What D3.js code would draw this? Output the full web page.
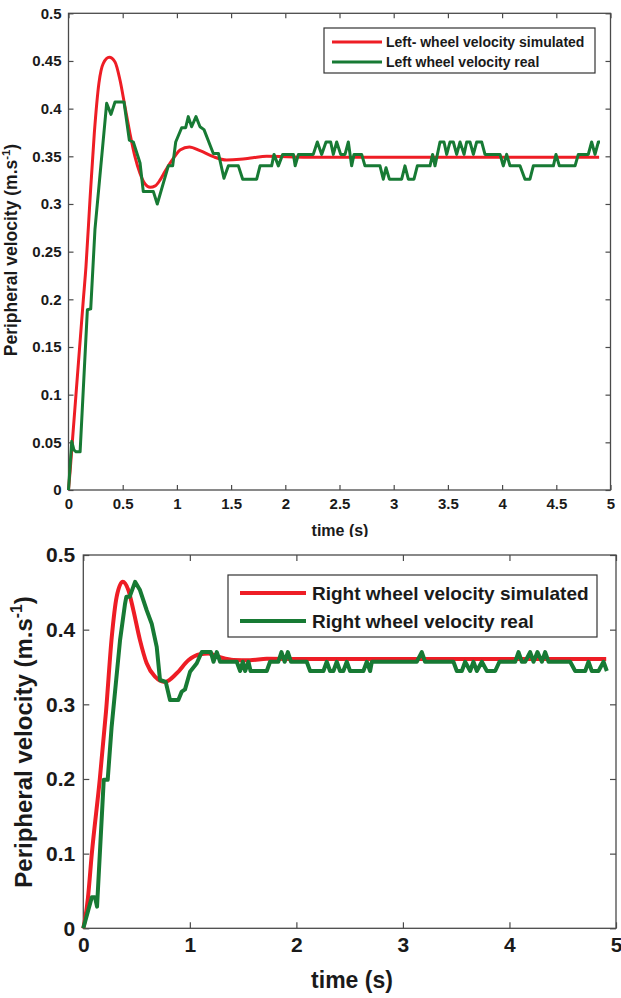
<!DOCTYPE html>
<html>
<head>
<meta charset="utf-8">
<script src="https://cdn.jsdelivr.net/npm/d3@7"></script>
<style>
  html, body { margin: 0; padding: 0; background: #fff; }
  svg { display: block; }
  text { font-family: "Liberation Sans", Arial, sans-serif; font-weight: bold; fill: #1a1a1a; }
</style>
</head>
<body>
<svg id="chart" width="621" height="998"></svg>
<script>
// ---------- DATA ----------
// Top chart: left wheel
const leftSimT = [0, 0.015, 0.035, 0.069, 0.137, 0.161, 0.198, 0.238, 0.281, 0.321, 0.376, 0.429, 0.475, 0.521, 0.567, 0.613, 0.66, 0.706, 0.752, 0.80, 0.844, 0.89, 0.936, 0.98, 1.029, 1.115, 1.213, 1.336, 1.459, 1.582, 1.70, 1.828, 2.2, 4.895];
const leftSimV = [0, 0.02, 0.05, 0.1, 0.2, 0.234, 0.304, 0.374, 0.427, 0.4475, 0.4538, 0.449, 0.43, 0.402, 0.374, 0.3496, 0.332, 0.321, 0.3175, 0.319, 0.325, 0.334, 0.3427, 0.350, 0.3566, 0.3598, 0.3559, 0.3496, 0.3461, 0.3468, 0.3485, 0.350, 0.349, 0.349];

const leftRealT = [0, 0.03, 0.05, 0.07, 0.107, 0.174, 0.205, 0.244, 0.352, 0.392, 0.429, 0.512, 0.561, 0.598, 0.66, 0.69, 0.783, 0.819, 0.921, 0.961, 0.989, 1.044, 1.081, 1.105, 1.136, 1.176, 1.213, 1.25, 1.336, 1.383, 1.434, 1.475, 1.567, 1.607, 1.736, 1.767, 1.874, 1.896, 1.936, 1.976, 2.075, 2.091, 2.121, 2.258,
  2.2955, 2.3355, 2.3755, 2.4185, 2.443, 2.474, 2.511, 2.551, 2.5815, 2.612, 2.634, 2.7045, 2.735, 2.8736, 2.904, 2.929, 2.96, 3.0735, 3.104, 3.135, 3.187, 3.218, 3.335, 3.359, 3.381, 3.427, 3.464, 3.489, 3.519, 3.55, 3.581, 3.612, 3.649, 3.673, 3.704, 3.735, 3.765, 3.812, 3.842, 3.904, 3.981, 4.011, 4.042, 4.073, 4.165, 4.211, 4.257, 4.288, 4.473, 4.497, 4.528, 4.673, 4.703, 4.795, 4.826, 4.857, 4.888, 4.903];
const leftRealV = [0, 0.051, 0.042, 0.040, 0.040, 0.189, 0.19, 0.273, 0.4056, 0.394, 0.407, 0.407, 0.367, 0.365, 0.343, 0.313, 0.313, 0.300, 0.340, 0.340, 0.365, 0.380, 0.380, 0.3916, 0.381, 0.3916, 0.381, 0.378, 0.353, 0.353, 0.327, 0.340, 0.340, 0.326, 0.326, 0.340, 0.340, 0.352, 0.340, 0.352, 0.352, 0.340, 0.352, 0.352,
  0.365, 0.352, 0.365, 0.365, 0.352, 0.365, 0.352, 0.352, 0.365, 0.340, 0.352, 0.352, 0.340, 0.340, 0.326, 0.338, 0.326, 0.326, 0.340, 0.326, 0.326, 0.340, 0.340, 0.352, 0.340, 0.365, 0.365, 0.352, 0.365, 0.365, 0.352, 0.365, 0.352, 0.365, 0.365, 0.352, 0.365, 0.365, 0.352, 0.352, 0.352, 0.340, 0.352, 0.340, 0.340, 0.326, 0.326, 0.340, 0.340, 0.352, 0.340, 0.340, 0.352, 0.352, 0.365, 0.352, 0.365, 0.365];

// Bottom chart: right wheel
const rightSimT = [0, 0.02, 0.043, 0.08, 0.155, 0.213, 0.267, 0.313, 0.37, 0.423, 0.47, 0.532, 0.595, 0.673, 0.767, 0.877, 0.986, 1.096, 1.174, 1.284, 1.409, 1.565, 1.722, 2.2, 4.908];
const rightSimV = [0, 0.015, 0.04, 0.1, 0.2, 0.29, 0.39, 0.444, 0.4643, 0.453, 0.426, 0.386, 0.355, 0.337, 0.330, 0.3415, 0.359, 0.367, 0.368, 0.363, 0.3594, 0.359, 0.361, 0.3607, 0.3607];

const rightRealT = [0, 0.08, 0.11, 0.129, 0.192, 0.229, 0.266, 0.345, 0.392, 0.404, 0.435, 0.486, 0.532, 0.595, 0.642, 0.689, 0.72, 0.774, 0.814, 0.892, 0.924, 0.955, 1.002, 1.065, 1.112, 1.197, 1.222, 1.253, 1.284, 1.44, 1.472, 1.497, 1.519, 1.55, 1.57, 1.722, 1.753, 1.83, 1.86, 1.89, 1.92, 1.95,
  2.097, 2.129, 2.254, 2.285, 2.316, 2.348, 2.379, 2.41, 2.441, 2.473, 2.504, 2.629, 2.661, 2.692, 2.708, 3.13, 3.177, 3.208, 3.474, 3.506, 3.553, 3.584, 3.631, 3.662, 3.694, 3.741, 3.788, 3.866, 3.906, 4.054, 4.085, 4.116, 4.147, 4.194, 4.226, 4.263, 4.304, 4.335, 4.367, 4.413, 4.57, 4.617, 4.711, 4.742, 4.773, 4.836, 4.883, 4.914];
const rightRealV = [0, 0.0415, 0.0415, 0.029, 0.199, 0.199, 0.27, 0.386, 0.435, 0.444, 0.444, 0.464, 0.453, 0.426, 0.408, 0.377, 0.3326, 0.330, 0.3058, 0.3058, 0.317, 0.320, 0.3437, 0.355, 0.370, 0.370, 0.357, 0.370, 0.357, 0.357, 0.3446, 0.357, 0.3446, 0.357, 0.3446, 0.3446, 0.357, 0.357, 0.370, 0.357, 0.370, 0.357,
  0.357, 0.3446, 0.3446, 0.357, 0.3446, 0.3446, 0.357, 0.3446, 0.3446, 0.357, 0.3446, 0.3446, 0.357, 0.3446, 0.357, 0.357, 0.370, 0.357, 0.357, 0.3446, 0.3446, 0.357, 0.3446, 0.357, 0.3446, 0.357, 0.3446, 0.3446, 0.357, 0.357, 0.370, 0.357, 0.357, 0.370, 0.357, 0.370, 0.357, 0.370, 0.357, 0.357, 0.357, 0.3446, 0.3446, 0.357, 0.3446, 0.3446, 0.357, 0.3446];

const topXTicks = [0, 0.5, 1, 1.5, 2, 2.5, 3, 3.5, 4, 4.5, 5];
const topYTicks = [0, 0.05, 0.1, 0.15, 0.2, 0.25, 0.3, 0.35, 0.4, 0.45, 0.5];
const botXTicks = [0, 1, 2, 3, 4, 5];
const botYTicks = [0, 0.1, 0.2, 0.3, 0.4, 0.5];

const topLegend = ["Left- wheel velocity simulated", "Left wheel velocity real"];
const botLegend = ["Right wheel velocity simulated", "Right wheel velocity real"];
const xTitle = "time (s)";
const yTitle = "Peripheral velocity (m.s";

const RED = "#ee1d25";
const GREEN = "#177a34";
const AXIS = "#4a4a4a";

const svg = d3.select("#chart");
svg.append("rect").attr("width", 621).attr("height", 998).attr("fill", "#fff");

svg.append("defs").append("clipPath").attr("id", "topclip")
  .append("rect").attr("x", 0).attr("y", 0).attr("width", 621).attr("height", 537);

function drawPanel(cfg) {
  const g = svg.append("g");
  if (cfg.clip) g.attr("clip-path", "url(#topclip)");
  const x = d3.scaleLinear().domain([0, 5]).range([cfg.x0, cfg.x1]);
  const y = d3.scaleLinear().domain([0, 0.5]).range([cfg.y0, cfg.y1]);
  const fmt = d => String(+d.toFixed(2));

  // axes with inward ticks on all four sides
  const tl = cfg.tick;
  g.append("g").attr("transform", `translate(0,${cfg.y0})`)
    .call(d3.axisBottom(x).tickValues(cfg.xt).tickSize(-tl).tickPadding(cfg.xpad).tickFormat(fmt))
    .call(s => s.select(".domain").remove());
  g.append("g").attr("transform", `translate(0,${cfg.y1})`)
    .call(d3.axisTop(x).tickValues(cfg.xt).tickSize(-tl).tickFormat(""))
    .call(s => s.select(".domain").remove());
  g.append("g").attr("transform", `translate(${cfg.x0},0)`)
    .call(d3.axisLeft(y).tickValues(cfg.yt).tickSize(-tl).tickPadding(cfg.ypad).tickFormat(fmt))
    .call(s => s.select(".domain").remove());
  g.append("g").attr("transform", `translate(${cfg.x1},0)`)
    .call(d3.axisRight(y).tickValues(cfg.yt).tickSize(-tl).tickFormat(""))
    .call(s => s.select(".domain").remove());
  g.selectAll(".tick line").attr("stroke", AXIS).attr("stroke-width", 1.2);
  g.selectAll(".tick text").attr("font-size", cfg.tickFont).attr("fill", "#1a1a1a")
    .attr("font-family", "Liberation Sans, Arial, sans-serif").attr("font-weight", "bold");

  g.append("rect").attr("x", cfg.x0).attr("y", cfg.y1)
    .attr("width", cfg.x1 - cfg.x0).attr("height", cfg.y0 - cfg.y1)
    .attr("fill", "none").attr("stroke", AXIS).attr("stroke-width", 1.3);

  const line = d3.line().x(d => x(d[0])).y(d => y(d[1]));
  const simPts = cfg.simT.map((t, i) => [t, cfg.simV[i]]);
  const realPts = cfg.realT.map((t, i) => [t, cfg.realV[i]]);
  g.append("path").attr("d", line.curve(d3.curveMonotoneX)(simPts))
    .attr("fill", "none").attr("stroke", RED).attr("stroke-width", cfg.lw).attr("stroke-linejoin", "round");
  g.append("path").attr("d", d3.line().x(d => x(d[0])).y(d => y(d[1]))(realPts))
    .attr("fill", "none").attr("stroke", GREEN).attr("stroke-width", cfg.lw).attr("stroke-linejoin", "round");

  // legend
  const L = cfg.leg;
  g.append("rect").attr("x", L.x).attr("y", L.y).attr("width", L.w).attr("height", L.h)
    .attr("fill", "#fff").attr("stroke", "#333").attr("stroke-width", 1.2);
  [RED, GREEN].forEach((c, i) => {
    const yy = L.rows[i];
    g.append("line").attr("x1", L.lx0).attr("x2", L.lx1).attr("y1", yy).attr("y2", yy)
      .attr("stroke", c).attr("stroke-width", cfg.lw);
    g.append("text").attr("x", L.tx).attr("y", yy).attr("dy", "0.35em")
      .attr("font-size", L.font).text(cfg.legend[i]);
  });

  // axis titles
  g.append("text").attr("x", cfg.xtX).attr("y", cfg.xtY).attr("text-anchor", "middle")
    .attr("font-size", cfg.xTitleFont).text(xTitle);
  const yt = g.append("text")
    .attr("transform", `translate(${cfg.ytX},${cfg.ytY}) rotate(-90)`)
    .attr("text-anchor", "middle").attr("font-size", cfg.yTitleFont);
  yt.append("tspan").text(yTitle);
  yt.append("tspan").attr("dy", -cfg.yTitleFont * 0.4).attr("font-size", cfg.yTitleFont * 0.65).text("-1");
  yt.append("tspan").attr("dy", cfg.yTitleFont * 0.4).text(")");
}

drawPanel({
  clip: true,
  x0: 68.5, x1: 610.5, y0: 490, y1: 13.3,
  xt: topXTicks, yt: topYTicks, tick: 5, xpad: 8, ypad: 7,
  tickFont: 15, xTitleFont: 16, yTitleFont: 17.5, lw: 3,
  simT: leftSimT, simV: leftSimV, realT: leftRealT, realV: leftRealV,
  legend: topLegend,
  leg: { x: 324, y: 28, w: 271, h: 45, rows: [42, 62], lx0: 332, lx1: 382, tx: 386, font: 14 },
  xtX: 340, xtY: 536, ytX: 17, ytY: 250
});

drawPanel({
  clip: false,
  x0: 83.3, x1: 616, y0: 928.3, y1: 555,
  xt: botXTicks, yt: botYTicks, tick: 6, xpad: 9, ypad: 8,
  tickFont: 21, xTitleFont: 23, yTitleFont: 24, lw: 4,
  simT: rightSimT, simV: rightSimV, realT: rightRealT, realV: rightRealV,
  legend: botLegend,
  leg: { x: 228, y: 575, w: 369, h: 62, rows: [593, 621], lx0: 240, lx1: 306, tx: 312, font: 19 },
  xtX: 352, xtY: 988, ytX: 32, ytY: 742
});
</script>
</body>
</html>
